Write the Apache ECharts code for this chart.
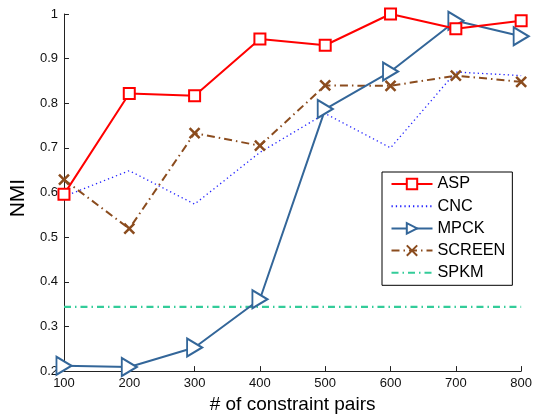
<!DOCTYPE html>
<html>
<head>
<meta charset="utf-8">
<script src="https://cdn.jsdelivr.net/npm/echarts@6/dist/echarts.min.js"></script>
<style>
  html, body { margin: 0; padding: 0; background: #fff; }
  #chart { width: 535px; height: 419px; }
</style>
</head>
<body>
<div id="chart"></div>
<script>
// Number of constraint pairs on the x axis
const pairs = [100, 200, 300, 400, 500, 600, 700, 800];

// NMI per method
const asp    = [0.596, 0.822, 0.817, 0.944, 0.930, 1.000, 0.967, 0.985];
const cnc    = [0.591, 0.649, 0.574, 0.690, 0.777, 0.700, 0.870, 0.862];
const mpck   = [0.212, 0.209, 0.253, 0.361, 0.787, 0.871, 0.985, 0.950];
const screen = [0.629, 0.519, 0.733, 0.705, 0.840, 0.839, 0.862, 0.848];
const spkm   = [0.344, 0.344, 0.344, 0.344, 0.344, 0.344, 0.344, 0.344];

const methods = ['ASP', 'CNC', 'MPCK', 'SCREEN', 'SPKM'];

const pts = ys => pairs.map((x, i) => [x, ys[i]]);

const font = 'Liberation Sans, Arial, Helvetica, sans-serif';

// Methods drawn as plain lines get no marker in the legend
const plainLines = ['CNC', 'SPKM'];

const chart = echarts.init(document.getElementById('chart'), null, { renderer: 'canvas' });
chart.setOption({
  animation: false,
  backgroundColor: '#fff',
  textStyle: { fontFamily: font },
  grid: { left: 63.5, right: 12, top: 14, bottom: 43, containLabel: false },
  legend: {
    orient: 'vertical',
    left: 382, top: 172,
    padding: [4, 7, 4.5, 8.5],
    itemGap: 6.2,
    itemWidth: 41, itemHeight: 13,
    borderColor: '#000', borderWidth: 1,
    backgroundColor: '#fff',
    textStyle: { fontFamily: font, fontSize: 16.3, color: '#000' },
    data: methods.map(n => plainLines.includes(n)
      ? { name: n, itemStyle: { opacity: 0 } }
      : { name: n })
  },
  xAxis: {
    type: 'value', min: 100, max: 800, interval: 100,
    name: '# of constraint pairs', nameLocation: 'middle', nameGap: 22,
    nameTextStyle: { fontSize: 19, color: '#000', fontFamily: font },
    axisLine: { lineStyle: { color: '#222', width: 1 } },
    axisTick: { inside: true, length: 5, lineStyle: { color: '#222' } },
    axisLabel: { fontSize: 13, color: '#111', margin: 6, fontFamily: font },
    splitLine: { show: false }
  },
  yAxis: {
    type: 'value', min: 0.2, max: 1, interval: 0.1,
    name: 'NMI', nameLocation: 'middle', nameGap: 30, nameRotate: 90,
    nameTextStyle: { fontSize: 21, color: '#000', fontFamily: font, padding: [0, 11, 0, 0] },
    axisLine: { show: true, lineStyle: { color: '#222', width: 1 } },
    axisTick: { show: true, inside: true, length: 5, lineStyle: { color: '#222' } },
    axisLabel: { fontSize: 13, color: '#111', margin: 6, fontFamily: font,
                 formatter: v => String(+v.toFixed(1)) },
    splitLine: { show: false }
  },
  series: [
    {
      name: 'ASP', type: 'line', data: pts(asp),
      symbol: 'rect', symbolSize: 11,
      lineStyle: { color: '#ff0000', width: 2 },
      itemStyle: { color: '#fff', borderColor: '#ff0000', borderWidth: 2 },
      z: 5
    },
    {
      name: 'CNC', type: 'line', data: pts(cnc),
      symbol: 'none', showSymbol: false,
      lineStyle: { color: '#2222ff', width: 1.3, type: [1.3, 3] },
      itemStyle: { color: '#2222ff' },
      z: 2
    },
    {
      name: 'MPCK', type: 'line', data: pts(mpck),
      symbol: 'triangle', symbolSize: [18, 15], symbolRotate: -90,
      lineStyle: { color: '#336699', width: 2 },
      itemStyle: { color: '#fff', borderColor: '#336699', borderWidth: 2 },
      z: 4
    },
    {
      name: 'SCREEN', type: 'line', data: pts(screen),
      symbol: 'path://M0,0L10,10M10,0L0,10', symbolSize: 10,
      lineStyle: { color: '#8b4c1e', width: 2, type: [8, 4, 1.5, 4] },
      itemStyle: { color: '#8b4c1e', borderColor: '#8b4c1e', borderWidth: 2.5 },
      z: 3
    },
    {
      name: 'SPKM', type: 'line', data: pts(spkm),
      symbol: 'none', showSymbol: false,
      lineStyle: { color: '#33cc99', width: 2.2, type: [7, 4, 1.5, 4] },
      itemStyle: { color: '#33cc99' },
      z: 1
    }
  ]
});
</script>
</body>
</html>
